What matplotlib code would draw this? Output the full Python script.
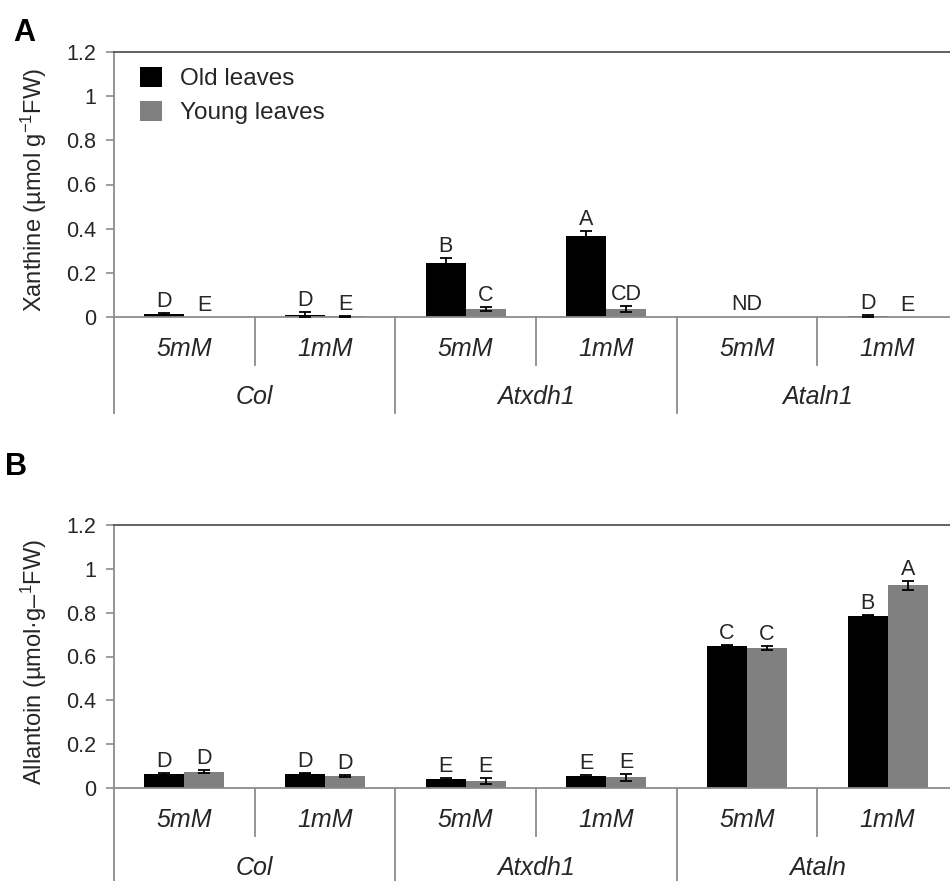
import matplotlib
matplotlib.use("Agg")
import matplotlib.pyplot as plt
import matplotlib.transforms as mtransforms
import numpy as np

plt.rcParams['font.family'] = ['Liberation Sans', 'DejaVu Sans']
plt.rcParams['mathtext.fontset'] = 'custom'
plt.rcParams['mathtext.rm'] = 'Liberation Sans'
plt.rcParams['mathtext.it'] = 'Liberation Sans:italic'

# ---------------- data ----------------
concentrations = ["5mM", "1mM", "5mM", "1mM", "5mM", "1mM"]
genotypes_a = ["Col", "Atxdh1", "Ataln1"]
genotypes_b = ["Col", "Atxdh1", "Ataln"]
series = ["Old leaves", "Young leaves"]

xan_old = [0.015, 0.010, 0.245, 0.365, 0.0, 0.006]
xan_old_err = [0.004, 0.012, 0.022, 0.023, 0.0, 0.004]
xan_young = [0.001, 0.004, 0.035, 0.036, 0.0, 0.002]
xan_young_err = [0.0, 0.002, 0.010, 0.012, 0.0, 0.0]
xan_old_letters = ["D", "D", "B", "A", "", "D"]
xan_young_letters = ["E", "E", "C", "CD", "", "E"]
xan_nd = ["", "", "", "", "ND", ""]

all_old = [0.065, 0.066, 0.040, 0.056, 0.650, 0.787]
all_old_err = [0.004, 0.004, 0.004, 0.004, 0.004, 0.004]
all_young = [0.075, 0.056, 0.031, 0.049, 0.640, 0.924]
all_young_err = [0.005, 0.005, 0.015, 0.016, 0.010, 0.022]
all_old_letters = ["D", "D", "E", "E", "C", "B"]
all_young_letters = ["D", "D", "E", "E", "C", "A"]

yticks = [0, 0.2, 0.4, 0.6, 0.8, 1.0, 1.2]
ytick_labels = ["0", "0.2", "0.4", "0.6", "0.8", "1", "1.2"]

W, H = 950, 881
fig = plt.figure(figsize=(W / 100, H / 100), dpi=100)

AX_COL = "#8c8c8c"
GRAY = "#808080"
TXT = "#262626"


def draw_err(ax, xs, vals, errs):
    xs = np.asarray(xs)
    vals = np.asarray(vals, dtype=float)
    errs = np.asarray(errs, dtype=float)
    m = errs > 0
    if m.any():
        ax.errorbar(xs[m], vals[m], yerr=errs[m], fmt="none", ecolor="black",
                    elinewidth=1.3, capsize=4.5, capthick=1.3, zorder=3)


def make_panel(top_px, bottom_px, old, old_err, young, young_err,
               old_lab, young_lab, nd, genotypes, ylabel, letter, letter_xy,
               outer_len, legend):
    left_px, right_px = 114, 958
    ax = fig.add_axes([left_px / W, 1 - bottom_px / H,
                       (right_px - left_px) / W, (bottom_px - top_px) / H])
    n = len(old)
    x = np.arange(n) + 0.5
    w = 0.285
    ax.bar(x - w / 2, old, w, color="black", label=series[0], zorder=2)
    ax.bar(x + w / 2, young, w, color=GRAY, label=series[1], zorder=2)
    draw_err(ax, x - w / 2, old, old_err)
    draw_err(ax, x + w / 2, young, young_err)
    for i in range(n):
        if old_lab[i]:
            ax.annotate(old_lab[i], (x[i] - w / 2, old[i] + old_err[i]),
                        xytext=(0, 1), textcoords="offset pixels",
                        ha="center", va="bottom", fontsize=15.5, color=TXT)
        if young_lab[i]:
            ax.annotate(young_lab[i], (x[i] + w / 2, young[i] + young_err[i]),
                        xytext=(0, 1), textcoords="offset pixels",
                        ha="center", va="bottom", fontsize=15.5, color=TXT)
        if nd and nd[i]:
            ax.annotate(nd[i], (x[i], 0), xytext=(0, 2),
                        textcoords="offset pixels", ha="center",
                        va="bottom", fontsize=15.5, color=TXT)

    ax.set_xlim(0, n)
    ax.set_ylim(0, 1.2)
    ax.set_yticks(yticks)
    ax.set_yticklabels(ytick_labels)
    ax.set_xticks([])
    ax.tick_params(axis="y", length=6, width=1.2, color=AX_COL,
                   labelsize=15.5, labelcolor=TXT, pad=7)
    ax.spines["left"].set_color(AX_COL)
    ax.spines["bottom"].set_color(AX_COL)
    ax.spines["top"].set_color("#555555")
    ax.spines["right"].set_visible(False)
    for s in ax.spines.values():
        s.set_linewidth(1.3)
    ax.set_ylabel(ylabel, fontsize=17, color=TXT)
    ax.yaxis.set_label_coords((49 - left_px) / (right_px - left_px), 0.48)

    # hierarchical axis
    trans = mtransforms.blended_transform_factory(ax.transData, ax.transAxes)
    hpx = bottom_px - top_px
    for k in range(0, n + 1):
        length = outer_len if k % 2 == 0 else 48
        ax.plot([k, k], [0, -length / hpx], transform=trans, color=AX_COL,
                lw=1.3, clip_on=False)
    for i in range(n):
        ax.text(x[i], -32 / hpx, concentrations[i], transform=trans,
                ha="center", va="center", fontsize=18, style="italic",
                color=TXT)
    for g in range(len(genotypes)):
        ax.text(2 * g + 1, -80 / hpx, genotypes[g], transform=trans,
                ha="center", va="center", fontsize=18, style="italic",
                color=TXT)
    fig.text(letter_xy[0] / W, 1 - letter_xy[1] / H, letter, fontsize=22,
             fontweight="bold", va="center", ha="left")
    if legend:
        ax.legend(loc="upper left", bbox_to_anchor=(26 / 844, 1 - 15 / hpx),
                  frameon=False, fontsize=17.5, handlelength=0.9,
                  handleheight=0.9, handletextpad=0.75, labelspacing=0.42,
                  borderaxespad=0.0, borderpad=0.0)
        for t in ax.get_legend().get_texts():
            t.set_color(TXT)
    return ax


make_panel(52, 317, xan_old, xan_old_err, xan_young, xan_young_err,
           xan_old_letters, xan_young_letters, xan_nd, genotypes_a,
           r"Xanthine (µmol g$^{-1}$FW)", "A", (13, 33), 96, True)
make_panel(525, 788, all_old, all_old_err, all_young, all_young_err,
           all_old_letters, all_young_letters, None, genotypes_b,
           r"Allantoin (µmol·g–$^{1}$FW)", "B", (5, 467), 110, False)

fig.savefig("out.png", dpi=100)
